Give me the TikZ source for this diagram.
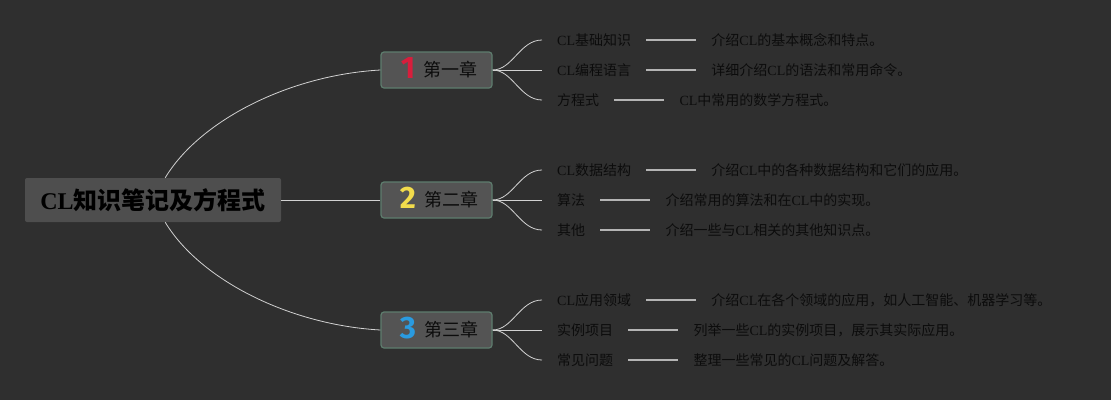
\documentclass[tikz,border=0pt]{standalone}
\usepackage{fontspec}
\usepackage{xcolor}
\usepackage{tikz}
\usetikzlibrary{positioning}
\setmainfont{Noto Sans CJK SC}
\newfontfamily\latinfont{Liberation Serif}
\newfontfamily\numfont{Fira Sans}
\newcommand{\CL}{{\latinfont CL}}
\definecolor{MapBack}{HTML}{2F2F2F}
\definecolor{MapRoot}{HTML}{4E4E4E}
\definecolor{MapChapter}{HTML}{545454}
\definecolor{MapChapterEdge}{HTML}{5E7D6E}
\definecolor{MapInk}{HTML}{0C0C0C}
\definecolor{MapLine}{HTML}{D2D2D2}
\definecolor{MapTie}{HTML}{B4B4B4}
\definecolor{NumRed}{HTML}{D81E3C}
\definecolor{NumYellow}{HTML}{F2DC4C}
\definecolor{NumBlue}{HTML}{2A9BE0}
\tikzset{
  rootbox/.style={
    fill=MapRoot,
    rounded corners=2pt,
    minimum width=256pt,
    minimum height=44pt,
    inner sep=0pt,
    text=black,
    font=\fontsize{24}{24}\selectfont\bfseries
  },
  chapterbox/.style={
    fill=MapChapter,
    draw=MapChapterEdge,
    line width=1.2pt,
    rounded corners=3pt,
    minimum width=111pt,
    minimum height=36pt,
    inner sep=0pt,
    text=MapInk,
    font=\fontsize{18}{18}\selectfont
  },
  topic/.style={
    anchor=west,
    inner xsep=15pt,
    inner ysep=2pt,
    text=MapInk,
    font=\fontsize{14}{14}\selectfont
  },
  note/.style={topic},
  branch/.style={draw=MapLine,line width=.8pt},
  tie/.style={draw=MapTie,line width=1.6pt}
}
\newcommand{\chapnum}[2]{\hspace{5pt}\smash{\raisebox{-1.5pt}{\textcolor{#1}{\numfont\bfseries\fontsize{31}{31}\selectfont #2}}}\hspace{8pt}}

\begin{document}
\begin{tikzpicture}[x=1pt,y=-1pt]
  \fill[MapBack] (0,0) rectangle (1111,400);
  \useasboundingbox (0,0) rectangle (1111,400);

  \node[rootbox] (root) at (153,200) {\CL 知识笔记及方程式};

  \node[chapterbox] (ch1) at (436.5,70) {\chapnum{NumRed}{1}第一章};
  \node[chapterbox] (ch2) at (436.5,200) {\chapnum{NumYellow}{2}第二章};
  \node[chapterbox] (ch3) at (436.5,330) {\chapnum{NumBlue}{3}第三章};

  \draw[branch] ([xshift=-116pt]root.north east) .. controls (200,120) and (290,75) .. (ch1.west);
  \draw[branch] (root.east) -- (ch2.west);
  \draw[branch] ([xshift=-116pt]root.south east) .. controls (200,280) and (290,325) .. (ch3.west);

  % first chapter
  \node[topic] (t11) at (542,40) {\CL 基础知识};
  \node[topic] (t12) at (542,70) {\CL 编程语言};
  \node[topic] (t13) at (542,100) {方程式};
  \node[note,right=50pt of t11] (n11) {介绍\CL 的基本概念和特点。};
  \node[note,right=50pt of t12] (n12) {详细介绍\CL 的语法和常用命令。};
  \node[note,right=50pt of t13] (n13) {\CL 中常用的数学方程式。};

  % second chapter
  \node[topic] (t21) at (542,170) {\CL 数据结构};
  \node[topic] (t22) at (542,200) {算法};
  \node[topic] (t23) at (542,230) {其他};
  \node[note,right=50pt of t21] (n21) {介绍\CL 中的各种数据结构和它们的应用。};
  \node[note,right=50pt of t22] (n22) {介绍常用的算法和在\CL 中的实现。};
  \node[note,right=50pt of t23] (n23) {介绍一些与\CL 相关的其他知识点。};

  % third chapter
  \node[topic] (t31) at (542,300) {\CL 应用领域};
  \node[topic] (t32) at (542,330) {实例项目};
  \node[topic] (t33) at (542,360) {常见问题};
  \node[note,right=50pt of t31] (n31) {介绍\CL 在各个领域的应用，如人工智能、机器学习等。};
  \node[note,right=50pt of t32] (n32) {列举一些\CL 的实例项目，展示其实际应用。};
  \node[note,right=50pt of t33] (n33) {整理一些常见的\CL 问题及解答。};

  \draw[branch] (ch1.east) .. controls +(20,0) and +(-22,0) .. (t11.west);
  \draw[branch] (ch1.east) -- (t12.west);
  \draw[branch] (ch1.east) .. controls +(20,0) and +(-22,0) .. (t13.west);
  \draw[branch] (ch2.east) .. controls +(20,0) and +(-22,0) .. (t21.west);
  \draw[branch] (ch2.east) -- (t22.west);
  \draw[branch] (ch2.east) .. controls +(20,0) and +(-22,0) .. (t23.west);
  \draw[branch] (ch3.east) .. controls +(20,0) and +(-22,0) .. (t31.west);
  \draw[branch] (ch3.east) -- (t32.west);
  \draw[branch] (ch3.east) .. controls +(20,0) and +(-22,0) .. (t33.west);

  \draw[tie] (t11) -- (n11);
  \draw[tie] (t12) -- (n12);
  \draw[tie] (t13) -- (n13);
  \draw[tie] (t21) -- (n21);
  \draw[tie] (t22) -- (n22);
  \draw[tie] (t23) -- (n23);
  \draw[tie] (t31) -- (n31);
  \draw[tie] (t32) -- (n32);
  \draw[tie] (t33) -- (n33);
\end{tikzpicture}
\end{document}
